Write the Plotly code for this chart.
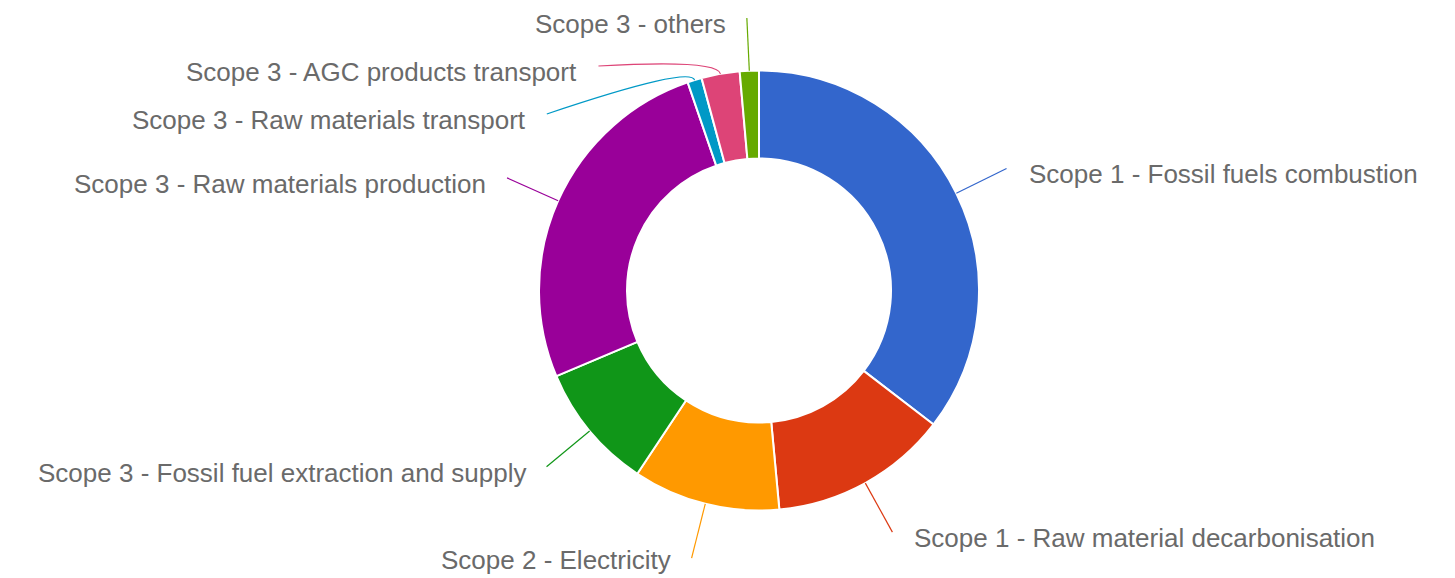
import math
import plotly.graph_objects as go

# ---- data ----
labels = [
    "Scope 1 - Fossil fuels combustion",
    "Scope 1 - Raw material decarbonisation",
    "Scope 2 - Electricity",
    "Scope 3 - Fossil fuel extraction and supply",
    "Scope 3 - Raw materials production",
    "Scope 3 - Raw materials transport",
    "Scope 3 - AGC products transport",
    "Scope 3 - others",
]
values = [35.4, 13.1, 10.8, 9.3, 26.1, 1.05, 2.8, 1.4]
colors = ["#3366cc", "#dc3912", "#ff9900", "#109618",
          "#990099", "#0099c6", "#dd4477", "#66aa00"]

# ---- layout constants (pixels) ----
W, H = 1455, 578
CX, CY = 759, 290.5
R_OUT = 220
HOLE = 0.6
R_LABEL = 276
R_CTRL = 235
SPACING = 48
Y_TOP = 18
TEXT_DY = 6
TEXT_MAX_Y = H - 18
FONT_SIZE = 26
TEXT_COLOR = "#6a6a6a"


def px_to_paper(x, y):
    return x / W, 1 - y / H


def pt(angle_deg, r):
    a = math.radians(angle_deg)
    return CX + r * math.sin(a), CY - r * math.cos(a)


total = sum(values)
mids = []
acc = 0.0
for v in values:
    mids.append((acc + v / 2) / total * 360.0)
    acc += v

items = []
for i, m in enumerate(mids):
    x, y = pt(m, R_LABEL)
    items.append(dict(i=i, mid=m, left=m > 180, xn=x, yn=y))

for side in (True, False):
    group = sorted([it for it in items if it["left"] == side], key=lambda it: it["yn"])
    prev = None
    for it in group:
        if prev is None:
            y = max(it["yn"], Y_TOP)
        else:
            y = max(it["yn"], prev + SPACING)
        it["y"] = y
        prev = y
        if abs(y - it["yn"]) < 12:
            it["x"] = it["xn"]
        else:
            dx = math.sqrt(max(R_LABEL ** 2 - (y - CY) ** 2, 0))
            it["x"] = CX - dx if side else CX + dx

fig = go.Figure()
fig.add_trace(go.Pie(
    labels=labels,
    values=values,
    sort=False,
    direction="clockwise",
    rotation=0,
    hole=HOLE,
    textinfo="none",
    hoverinfo="label+percent",
    marker=dict(colors=colors, line=dict(color="white", width=2)),
    domain=dict(x=[(CX - R_OUT) / W, (CX + R_OUT) / W],
                y=[(H - (CY + R_OUT)) / H, (H - (CY - R_OUT)) / H]),
    showlegend=False,
))

shapes = []
annotations = []
for it in items:
    i = it["i"]
    ex, ey = pt(it["mid"], R_OUT)
    cx_, cy_ = pt(it["mid"], R_CTRL)
    lx, ly = it["x"], it["y"]
    p0 = px_to_paper(lx, ly)
    p1 = px_to_paper(cx_, cy_)
    p2 = px_to_paper(ex, ey)
    path = "M {:.5f},{:.5f} Q {:.5f},{:.5f} {:.5f},{:.5f}".format(
        p0[0], p0[1], p1[0], p1[1], p2[0], p2[1])
    shapes.append(dict(type="path", path=path, xref="paper", yref="paper",
                       line=dict(color=colors[i], width=1.2)))
    if it["left"]:
        tx, anchor = lx - 19, "right"
    else:
        tx, anchor = lx + 20, "left"
    ty = min(ly + TEXT_DY, TEXT_MAX_Y)
    ax, ay = px_to_paper(tx, ty)
    annotations.append(dict(x=ax, y=ay, xref="paper", yref="paper",
                            text=labels[i], showarrow=False,
                            xanchor=anchor, yanchor="middle",
                            font=dict(family="Liberation Sans, Arial, sans-serif",
                                      size=FONT_SIZE, color=TEXT_COLOR)))

fig.update_layout(
    width=W, height=H,
    margin=dict(l=0, r=0, t=0, b=0),
    paper_bgcolor="white",
    plot_bgcolor="white",
    showlegend=False,
    shapes=shapes,
    annotations=annotations,
)

fig.write_html("out.html")
